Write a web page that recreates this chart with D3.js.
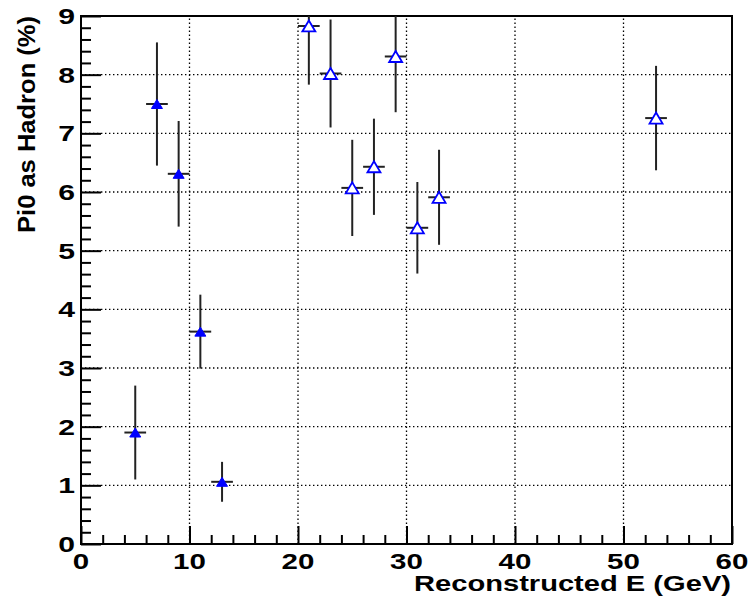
<!DOCTYPE html>
<html>
<head>
<meta charset="utf-8">
<script src="https://cdn.jsdelivr.net/npm/d3@7"></script>
<style>
  body { margin: 0; background: #fff; }
  svg { display: block; }
  text { font-family: "Liberation Sans", Arial, Helvetica, sans-serif; font-weight: bold; fill: #000; }
</style>
</head>
<body>
<div id="chart"></div>
<script>
// ---- data ----
const filledX   = [5, 7, 9, 11, 13];
const filledY   = [1.90, 7.50, 6.31, 3.62, 1.06];
const filledErr = [0.80, 1.05, 0.90, 0.63, 0.34];

const openX   = [21, 23, 25, 27, 29, 31, 33, 53];
const openY   = [8.83, 8.02, 6.07, 6.43, 8.31, 5.39, 5.91, 7.26];
const openErr = [1.00, 0.92, 0.82, 0.82, 0.95, 0.78, 0.81, 0.89];

const xHalfWidth = 1;

const xTicks = [0, 10, 20, 30, 40, 50, 60];
const yTicks = [0, 1, 2, 3, 4, 5, 6, 7, 8, 9];

const xTitle = "Reconstructed E (GeV)";
const yTitle = "Pi0 as Hadron (%)";

// ---- layout ----
const W = 749, H = 600;
const pL = 81, pR = 732, pT = 16, pB = 544;
const sx = 1.34; // horizontal stretch of glyphs in the reference

const x = d3.scaleLinear().domain([0, 60]).range([pL, pR]);
const y = d3.scaleLinear().domain([0, 9]).range([pB, pT]);

const svg = d3.select("#chart").append("svg").attr("width", W).attr("height", H);

svg.append("defs").append("clipPath").attr("id", "plotclip")
  .append("rect").attr("x", pL).attr("y", pT).attr("width", pR - pL).attr("height", pB - pT);

// grid
const grid = svg.append("g").attr("stroke", "#000").attr("stroke-width", 1.3).attr("stroke-dasharray", "1.4,2.6");
grid.selectAll(".gx").data(xTicks.filter(t => t > 0 && t < 60)).join("line").attr("class", "gx")
  .attr("x1", d => x(d)).attr("x2", d => x(d)).attr("y1", pB).attr("y2", pT);
grid.selectAll(".gy").data(yTicks.filter(t => t > 0 && t < 9)).join("line").attr("class", "gy")
  .attr("y1", d => y(d)).attr("y2", d => y(d)).attr("x1", pL).attr("x2", pR);

// axes via d3 axis generators (ticks inside)
const xAxis = d3.axisBottom(x).tickValues(d3.range(0, 60.01, 2)).tickFormat("")
  .tickSizeInner(0).tickSizeOuter(0);
const xg = svg.append("g").attr("transform", `translate(0,${pB})`).call(xAxis);
xg.select(".domain").remove();
xg.selectAll(".tick line")
  .attr("y2", d => (Math.round(d) % 10 === 0 ? -18 : -9))
  .attr("stroke", "#000").attr("stroke-width", 2);

const yAxis = d3.axisLeft(y).tickValues(d3.range(0, 9.001, 0.2)).tickFormat("")
  .tickSizeInner(0).tickSizeOuter(0);
const yg = svg.append("g").attr("transform", `translate(${pL},0)`).call(yAxis);
yg.select(".domain").remove();
yg.selectAll(".tick line")
  .attr("x2", d => (Math.abs(d - Math.round(d)) < 1e-6 ? 20 : 10))
  .attr("stroke", "#000").attr("stroke-width", 2);

// frame
svg.append("rect").attr("x", pL).attr("y", pT).attr("width", pR - pL).attr("height", pB - pT)
  .attr("fill", "none").attr("stroke", "#000").attr("stroke-width", 2);

// tick labels
svg.append("g").selectAll("text").data(xTicks).join("text")
  .attr("text-anchor", "middle").attr("font-size", 22)
  .attr("transform", d => `translate(${x(d)},569) scale(${sx},1)`)
  .text(d => d);
svg.append("g").selectAll("text").data(yTicks).join("text")
  .attr("text-anchor", "end").attr("font-size", 22.5)
  .attr("transform", d => `translate(75,${y(d) + 8}) scale(${sx},1)`)
  .text(d => d);

// axis titles
svg.append("text").attr("text-anchor", "end").attr("font-size", 21.5)
  .attr("transform", `translate(731,591)`)
  .attr("textLength", 317).attr("lengthAdjust", "spacingAndGlyphs").text(xTitle);
svg.append("text").attr("text-anchor", "end").attr("font-size", 23)
  .attr("transform", `translate(35,16) rotate(-90)`)
  .attr("textLength", 217).attr("lengthAdjust", "spacingAndGlyphs").text(yTitle);

// data
const filled = filledX.map((v, i) => ({ x: v, y: filledY[i], e: filledErr[i] }));
const open = openX.map((v, i) => ({ x: v, y: openY[i], e: openErr[i] }));
const all = filled.concat(open);

const pg = svg.append("g").attr("clip-path", "url(#plotclip)");
const eb = pg.append("g").attr("stroke", "#222").attr("stroke-width", 2);
eb.selectAll(".v").data(all).join("line").attr("class", "v")
  .attr("x1", d => x(d.x)).attr("x2", d => x(d.x))
  .attr("y1", d => y(d.y - d.e)).attr("y2", d => y(d.y + d.e));
eb.selectAll(".h").data(all).join("line").attr("class", "h")
  .attr("x1", d => x(d.x - xHalfWidth)).attr("x2", d => x(d.x + xHalfWidth))
  .attr("y1", d => y(d.y)).attr("y2", d => y(d.y));

function tri(w, h) {
  return `M0,${-h / 2}L${w / 2},${h / 2}L${-w / 2},${h / 2}Z`;
}
pg.append("g").selectAll("path").data(filled).join("path")
  .attr("d", tri(11, 9))
  .attr("transform", d => `translate(${x(d.x)},${y(d.y)})`)
  .attr("fill", "#0000ff").attr("stroke", "#0000ff").attr("stroke-width", 1);
pg.append("g").selectAll("path").data(open).join("path")
  .attr("d", tri(13, 11))
  .attr("transform", d => `translate(${x(d.x)},${y(d.y)})`)
  .attr("fill", "#fff").attr("stroke", "#0000ff").attr("stroke-width", 1.8);
</script>
</body>
</html>
